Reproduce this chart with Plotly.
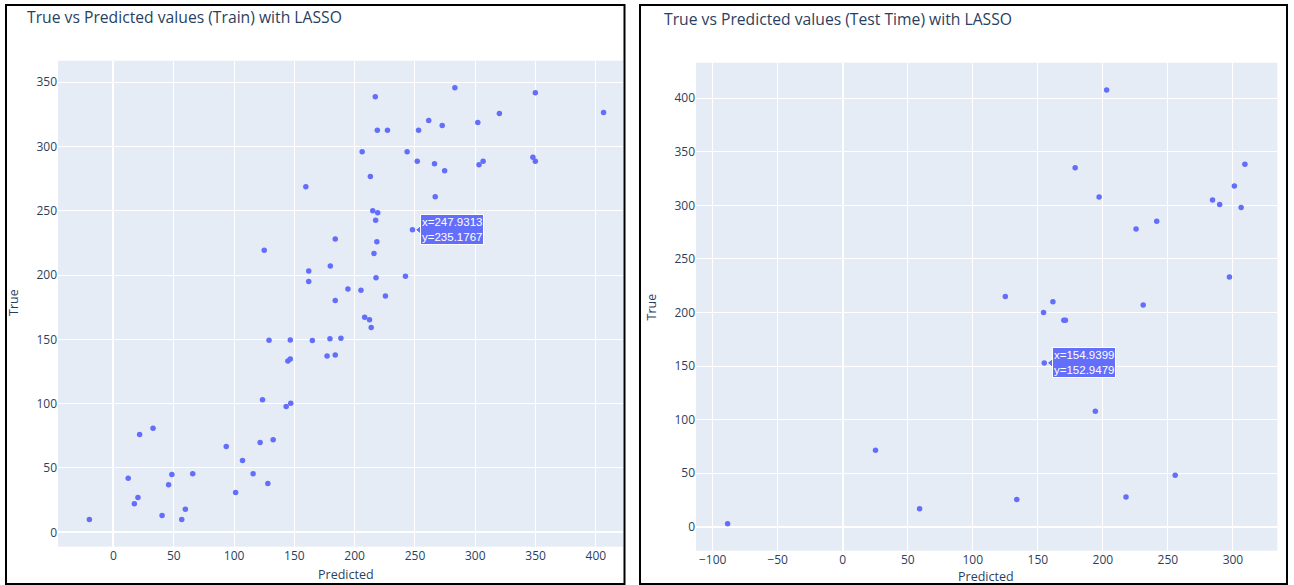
import plotly.graph_objects as go

# ---- data ----
train_pred = [217.1, 283.1, 349.8, 406.4, 320.0, 261.4, 272.6, 302.1, 218.8, 227.2, 253.0, 206.2, 243.5, 251.9,
              266.2, 274.6, 303.1, 306.5, 347.8, 349.8, 213.0, 159.5, 266.8, 215.0, 219.1, 217.4, 247.9313, 183.9,
              218.4, 125.0, 216.0, 179.8, 161.9, 242.1, 217.7, 161.9, 194.4, 205.2, 225.5, 183.9, 208.3, 212.3,
              213.7, 129.0, 146.6, 164.9, 179.5, 188.6, 177.1, 183.9, 144.6, 146.6, 123.6, 143.2, 147.0, 32.8,
              21.7, 93.5, 121.6, 132.4, 107.0, 48.4, 65.7, 115.8, 12.2, 45.7, 128.0, 101.3, 20.3, 17.3, 59.6,
              40.3, -20.0, 56.6]
train_true = [338.6, 345.6, 341.7, 326.4, 325.6, 320.2, 316.3, 318.7, 312.7, 312.7, 312.7, 295.9, 295.9, 288.6,
              286.5, 281.1, 285.8, 288.6, 291.7, 288.6, 276.7, 268.7, 260.9, 250.0, 248.4, 242.7, 235.1767, 228.0,
              225.9, 219.4, 216.8, 207.0, 203.1, 199.0, 197.9, 195.1, 189.1, 188.3, 183.7, 180.3, 167.3, 165.2,
              159.2, 149.4, 149.6, 149.1, 150.4, 150.9, 137.1, 137.9, 133.2, 134.8, 103.1, 97.9, 100.3, 81.0,
              76.1, 66.8, 69.9, 71.9, 55.8, 44.9, 45.5, 45.5, 42.1, 36.9, 37.9, 30.9, 27.0, 22.1, 17.9,
              13.0, 9.9, 9.9]

test_pred = [202.9, 178.7, 197.1, 225.5, 241.4, 284.3, 289.8, 301.1, 306.3, 309.2, 297.3, 125.0, 161.6, 154.4,
             170.0, 171.2, 231.0, 154.9399, 194.2, 25.2, 255.6, 217.8, 133.8, 59.1, -88.5]
test_true = [407.8, 335.1, 307.8, 278.0, 285.1, 305.0, 300.9, 318.0, 298.1, 338.5, 233.2, 215.0, 210.0, 200.0,
             192.8, 192.8, 206.9, 152.9479, 107.8, 71.3, 48.0, 27.7, 25.5, 16.8, 2.8]

train_hover_idx = 26
test_hover_idx = 17

titles = ["True vs Predicted values (Train) with LASSO", "True vs Predicted values (Test Time) with LASSO"]
x_title = "Predicted"
y_title = "True"

W, H = 1294, 585
COLOR = "#636efa"
TXT = "#2a3f5f"


def px(v):
    return v / W


def py(v):
    return 1 - v / H


fig = go.Figure()
fig.add_trace(go.Scatter(x=train_pred, y=train_true, mode="markers", xaxis="x", yaxis="y",
                         marker=dict(color=COLOR, size=5.5), showlegend=False))
fig.add_trace(go.Scatter(x=test_pred, y=test_true, mode="markers", xaxis="x2", yaxis="y2",
                         marker=dict(color=COLOR, size=5.5), showlegend=False))

axis_common = dict(gridcolor="white", zerolinecolor="white", zerolinewidth=2, automargin=False,
                   tickfont=dict(size=12, color=TXT), showline=False, ticks="")

fig.update_layout(
    width=W, height=H,
    margin=dict(l=0, r=0, t=0, b=0),
    paper_bgcolor="white", plot_bgcolor="#E5ECF6",
    font=dict(family='"Open Sans", verdana, arial, sans-serif', color=TXT),
    xaxis=dict(domain=[px(58), px(623)], range=[-46, 422.5], dtick=50, anchor="y", **axis_common),
    yaxis=dict(domain=[py(546.7), py(60.7)], range=[-11.2, 366.7], dtick=50, anchor="x", **axis_common),
    xaxis2=dict(domain=[px(696), px(1277.3)], range=[-112.8, 334.1], dtick=50, anchor="y2", **axis_common),
    yaxis2=dict(domain=[py(550.7), py(62.7)], range=[-22.4, 433.2], dtick=50, anchor="x2", **axis_common),
)

# panel borders
for x0, x1 in [(6, 624.5), (640, 1287)]:
    fig.add_shape(type="rect", xref="paper", yref="paper", x0=px(x0), x1=px(x1), y0=py(584), y1=py(5),
                  line=dict(color="black", width=2), fillcolor="rgba(0,0,0,0)", layer="above")

# titles
fig.add_annotation(text=titles[0], xref="paper", yref="paper", x=px(25), y=py(17), xanchor="left",
                   yanchor="middle", showarrow=False, font=dict(size=15.7, color=TXT))
fig.add_annotation(text=titles[1], xref="paper", yref="paper", x=px(662), y=py(19), xanchor="left",
                   yanchor="middle", showarrow=False, font=dict(size=15.7, color=TXT))

# axis titles
fig.add_annotation(text=x_title, xref="paper", yref="paper", x=px(346), y=py(574), xanchor="center",
                   yanchor="middle", showarrow=False, font=dict(size=12.5, color=TXT))
fig.add_annotation(text=x_title, xref="paper", yref="paper", x=px(986), y=py(576), xanchor="center",
                   yanchor="middle", showarrow=False, font=dict(size=12.5, color=TXT))
fig.add_annotation(text=y_title, xref="paper", yref="paper", x=px(13), y=py(303), xanchor="center",
                   yanchor="middle", showarrow=False, textangle=-90, font=dict(size=12.5, color=TXT))
fig.add_annotation(text=y_title, xref="paper", yref="paper", x=px(650.5), y=py(307), xanchor="center",
                   yanchor="middle", showarrow=False, textangle=-90, font=dict(size=12.5, color=TXT))

# hover-style labels
for xs, ys, idx, xr, yr in [(train_pred, train_true, train_hover_idx, "x", "y"),
                            (test_pred, test_true, test_hover_idx, "x2", "y2")]:
    hx, hy = xs[idx], ys[idx]
    fig.add_annotation(text=f"x={hx:.4f}<br>y={hy:.4f}", xref=xr, yref=yr, x=hx, y=hy,
                       xanchor="left", yanchor="middle", xshift=8, showarrow=False,
                       bgcolor=COLOR, bordercolor="white", borderwidth=1, borderpad=1,
                       font=dict(family="Arial", size=11.5, color="white"), align="left")
    fig.add_shape(type="path", xref=xr, yref=yr, xsizemode="pixel", ysizemode="pixel",
                  xanchor=hx, yanchor=hy, path="M 3,0 L 9,5 L 9,-5 Z",
                  fillcolor=COLOR, line=dict(color="white", width=1), layer="above")

fig.write_html("out.html", post_script="document.body.style.margin='0';",
               config={"displayModeBar": False})
